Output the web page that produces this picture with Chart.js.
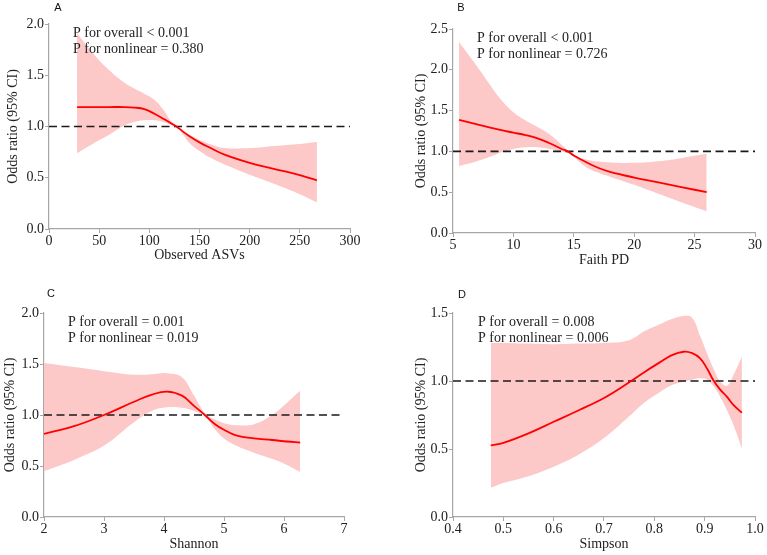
<!DOCTYPE html>
<html>
<head>
<meta charset="utf-8">
<script src="https://cdn.jsdelivr.net/npm/chart.js@4.4.1/dist/chart.umd.min.js"></script>
<style>
  html, body { margin: 0; padding: 0; background: #ffffff; }
  #wrap { position: relative; width: 767px; height: 555px; overflow: hidden; }
  canvas { position: absolute; }
</style>
</head>
<body>
<div id="wrap">
  <canvas id="cA" width="384" height="277" style="left:0px;top:0px;"></canvas>
  <canvas id="cB" width="383" height="277" style="left:384px;top:0px;"></canvas>
  <canvas id="cC" width="384" height="278" style="left:0px;top:277px;"></canvas>
  <canvas id="cD" width="383" height="278" style="left:384px;top:277px;"></canvas>
</div>
<script>
// ---------------- DATA ----------------
// Panel A: Observed ASVs
const A_x     = [28, 45, 60, 75, 85, 95, 105, 115, 121, 127, 133, 140, 150, 160, 175, 200, 225, 250, 267];
const A_or    = [1.19, 1.19, 1.19, 1.19, 1.185, 1.17, 1.125, 1.07, 1.035, 1.0, 0.955, 0.905, 0.845, 0.795, 0.725, 0.645, 0.585, 0.525, 0.475];
const A_upper = [1.91, 1.70, 1.55, 1.43, 1.37, 1.32, 1.26, 1.15, 1.06, 1.01, 0.96, 0.92, 0.87, 0.83, 0.79, 0.79, 0.81, 0.83, 0.85];
const A_lower = [0.74, 0.84, 0.92, 1.01, 1.045, 1.06, 1.06, 1.04, 1.02, 0.99, 0.93, 0.84, 0.76, 0.70, 0.63, 0.53, 0.44, 0.34, 0.26];
const A_xTicks = [0, 50, 100, 150, 200, 250, 300];
const A_yTicks = [0, 0.5, 1.0, 1.5, 2.0];
const A_text = ['P for overall < 0.001', 'P for nonlinear = 0.380'];
const A_xTitle = 'Observed ASVs';

// Panel B: Faith PD
const B_x     = [5.5, 7, 8, 9, 10, 11, 12, 13, 14, 14.5, 15, 16, 17, 18, 20, 22, 24, 26];
const B_or    = [1.385, 1.33, 1.295, 1.26, 1.23, 1.20, 1.16, 1.10, 1.03, 1.0, 0.95, 0.87, 0.80, 0.75, 0.68, 0.62, 0.56, 0.50];
const B_upper = [2.34, 2.04, 1.83, 1.63, 1.48, 1.38, 1.30, 1.21, 1.08, 1.01, 0.95, 0.90, 0.875, 0.865, 0.86, 0.88, 0.92, 0.97];
const B_lower = [0.82, 0.88, 0.93, 0.99, 1.03, 1.05, 1.05, 1.03, 1.0, 0.98, 0.93, 0.81, 0.74, 0.69, 0.59, 0.48, 0.37, 0.265];
const B_xTicks = [5, 10, 15, 20, 25, 30];
const B_yTicks = [0, 0.5, 1.0, 1.5, 2.0, 2.5];
const B_text = ['P for overall < 0.001', 'P for nonlinear = 0.726'];
const B_xTitle = 'Faith PD';

// Panel C: Shannon
const C_x     = [2, 2.5, 3, 3.5, 3.8, 4.05, 4.3, 4.5, 4.68, 4.85, 5.0, 5.2, 5.5, 5.8, 6.05, 6.27];
const C_or    = [0.815, 0.89, 1.0, 1.13, 1.2, 1.23, 1.19, 1.09, 1.0, 0.91, 0.855, 0.80, 0.77, 0.755, 0.74, 0.73];
const C_upper = [1.51, 1.47, 1.43, 1.395, 1.40, 1.41, 1.37, 1.19, 1.02, 0.955, 0.92, 0.90, 0.91, 1.0, 1.12, 1.24];
const C_lower = [0.45, 0.56, 0.70, 0.93, 1.04, 1.075, 1.07, 1.04, 0.99, 0.86, 0.77, 0.70, 0.63, 0.57, 0.51, 0.44];
const C_xTicks = [2, 3, 4, 5, 6, 7];
const C_yTicks = [0, 0.5, 1.0, 1.5, 2.0];
const C_text = ['P for overall = 0.001', 'P for nonlinear = 0.019'];
const C_xTitle = 'Shannon';

// Panel D: Simpson
const D_x     = [0.475, 0.5, 0.55, 0.6, 0.65, 0.7, 0.75, 0.78, 0.81, 0.835, 0.858, 0.875, 0.891, 0.905, 0.917, 0.93, 0.944, 0.958, 0.974];
const D_or    = [0.526, 0.545, 0.615, 0.70, 0.785, 0.875, 0.99, 1.065, 1.135, 1.19, 1.215, 1.205, 1.167, 1.09, 1.007, 0.94, 0.885, 0.82, 0.767];
const D_upper = [1.28, 1.28, 1.275, 1.27, 1.275, 1.28, 1.30, 1.365, 1.415, 1.455, 1.478, 1.465, 1.33, 1.20, 1.095, 1.0, 0.965, 1.05, 1.18];
const D_lower = [0.215, 0.25, 0.30, 0.37, 0.46, 0.58, 0.74, 0.84, 0.915, 0.97, 0.995, 1.01, 1.02, 1.01, 0.966, 0.89, 0.787, 0.67, 0.505];
const D_xTicks = [0.4, 0.5, 0.6, 0.7, 0.8, 0.9, 1.0];
const D_yTicks = [0, 0.5, 1.0, 1.5];
const D_text = ['P for overall = 0.008', 'P for nonlinear = 0.006'];
const D_xTitle = 'Simpson';

const yTitle = 'Odds ratio (95% CI)';
const refValue = 1.0;

// ---------------- STYLE ----------------
const SERIF = '"Liberation Serif", "Times New Roman", serif';
const SANS = '"Liberation Sans", Arial, sans-serif';
const BAND = 'rgb(252,200,200)';
const RED = '#ff0000';
const AXIS = '#a6a6a6';
const TXT = '#222222';

function pts(xs, ys) { return xs.map((x, i) => ({ x: x, y: ys[i] })); }

const textPlugin = {
  id: 'panelText',
  afterDraw(chart) {
    const o = chart.options.plugins.panelText;
    const ctx = chart.ctx;
    ctx.save();
    ctx.fillStyle = '#111';
    ctx.font = '11px ' + SANS;
    ctx.textAlign = 'center';
    ctx.textBaseline = 'middle';
    ctx.fillText(o.letter, o.lx, o.ly);
    ctx.fillStyle = TXT;
    ctx.font = '14px ' + SERIF;
    ctx.textAlign = 'left';
    ctx.textBaseline = 'alphabetic';
    o.lines.forEach((t, i) => ctx.fillText(t, o.tx, o.ty + i * 15.5));
    ctx.restore();
  }
};

function makePanel(p) {
  const xMin = p.xTicks[0], xMax = p.xTicks[p.xTicks.length - 1];
  const yMin = p.yTicks[0], yMax = p.yTicks[p.yTicks.length - 1];
  const T = 0.4;
  new Chart(document.getElementById(p.id), {
    type: 'line',
    data: {
      datasets: [
        { data: pts(p.x, p.upper), borderWidth: 0, borderColor: 'rgba(0,0,0,0)', backgroundColor: BAND,
          fill: '+1', pointRadius: 0, tension: T, order: 3 },
        { data: pts(p.x, p.lower), borderWidth: 0, borderColor: 'rgba(0,0,0,0)', backgroundColor: BAND,
          fill: false, pointRadius: 0, tension: T, order: 4 },
        { data: [{ x: xMin, y: refValue }, { x: xMax, y: refValue }], borderColor: '#1a1a1a', borderWidth: 1.7,
          borderDash: [8, 4.5], pointRadius: 0, fill: false, order: 1 },
        { data: pts(p.x, p.est), borderColor: RED, borderWidth: 1.8, pointRadius: 0, fill: false,
          tension: T, order: 0 }
      ]
    },
    options: {
      responsive: false,
      animation: false,
      devicePixelRatio: 1,
      layout: { padding: { left: 0, top: p.padTop, right: p.padRight, bottom: 0 } },
      plugins: {
        legend: { display: false },
        tooltip: { enabled: false },
        panelText: p.text
      },
      scales: {
        x: {
          type: 'linear', min: xMin, max: xMax,
          afterBuildTicks: s => { s.ticks = p.xTicks.map(v => ({ value: v })); },
          afterFit: s => { s.height = p.xH; },
          ticks: { color: TXT, font: { family: SERIF, size: 14 }, padding: 0, maxRotation: 0, autoSkip: false,
                   callback: v => p.xFmt(v) },
          grid: { drawOnChartArea: false, drawTicks: true, tickLength: 4, color: AXIS, lineWidth: 1 },
          border: { color: AXIS, width: 1.2 },
          title: { display: true, text: p.xTitle, color: TXT, font: { family: SERIF, size: 14 },
                   padding: { top: 0, bottom: p.xTitlePad } }
        },
        y: {
          type: 'linear', min: yMin, max: yMax,
          afterBuildTicks: s => { s.ticks = p.yTicks.map(v => ({ value: v })); },
          afterFit: s => { s.width = p.yW; },
          ticks: { color: TXT, font: { family: SERIF, size: 14 }, padding: 1, autoSkip: false,
                   callback: v => Number(v).toFixed(1) },
          grid: { drawOnChartArea: false, drawTicks: true, tickLength: 4, color: AXIS, lineWidth: 1 },
          border: { color: AXIS, width: 1.2 },
          title: { display: true, text: yTitle, color: TXT, font: { family: SERIF, size: 14 },
                   padding: { top: p.yTitlePad, bottom: 0 } }
        }
      }
    },
    plugins: [textPlugin]
  });
}

makePanel({ id: 'cA', x: A_x, est: A_or, upper: A_upper, lower: A_lower, xTicks: A_xTicks, yTicks: A_yTicks,
  xTitle: A_xTitle, xFmt: v => String(v), padTop: 24, padRight: 34, yW: 49, xH: 48, xTitlePad: 13.6, yTitlePad: 4.6,
  text: { letter: 'A', lx: 58, ly: 8, lines: A_text, tx: 73, ty: 37.3 } });
makePanel({ id: 'cB', x: B_x, est: B_or, upper: B_upper, lower: B_lower, xTicks: B_xTicks, yTicks: B_yTicks,
  xTitle: B_xTitle, xFmt: v => String(v), padTop: 29, padRight: 12, yW: 69, xH: 44, xTitlePad: 8.6, yTitlePad: 28.6,
  text: { letter: 'B', lx: 77, ly: 8, lines: B_text, tx: 93, ty: 42.3 } });
makePanel({ id: 'cC', x: C_x, est: C_or, upper: C_upper, lower: C_lower, xTicks: C_xTicks, yTicks: C_yTicks,
  xTitle: C_xTitle, xFmt: v => String(v), padTop: 36, padRight: 40, yW: 44, xH: 38, xTitlePad: 2.6, yTitlePad: 1.6,
  text: { letter: 'C', lx: 51, ly: 17, lines: C_text, tx: 68, ty: 49.3 } });
makePanel({ id: 'cD', x: D_x, est: D_or, upper: D_upper, lower: D_lower, xTicks: D_xTicks, yTicks: D_yTicks,
  xTitle: D_xTitle, xFmt: v => Number(v).toFixed(1), padTop: 36, padRight: 12, yW: 69, xH: 38, xTitlePad: 2.6, yTitlePad: 28.6,
  text: { letter: 'D', lx: 78, ly: 18, lines: D_text, tx: 94, ty: 49.3 } });
</script>
</body>
</html>
